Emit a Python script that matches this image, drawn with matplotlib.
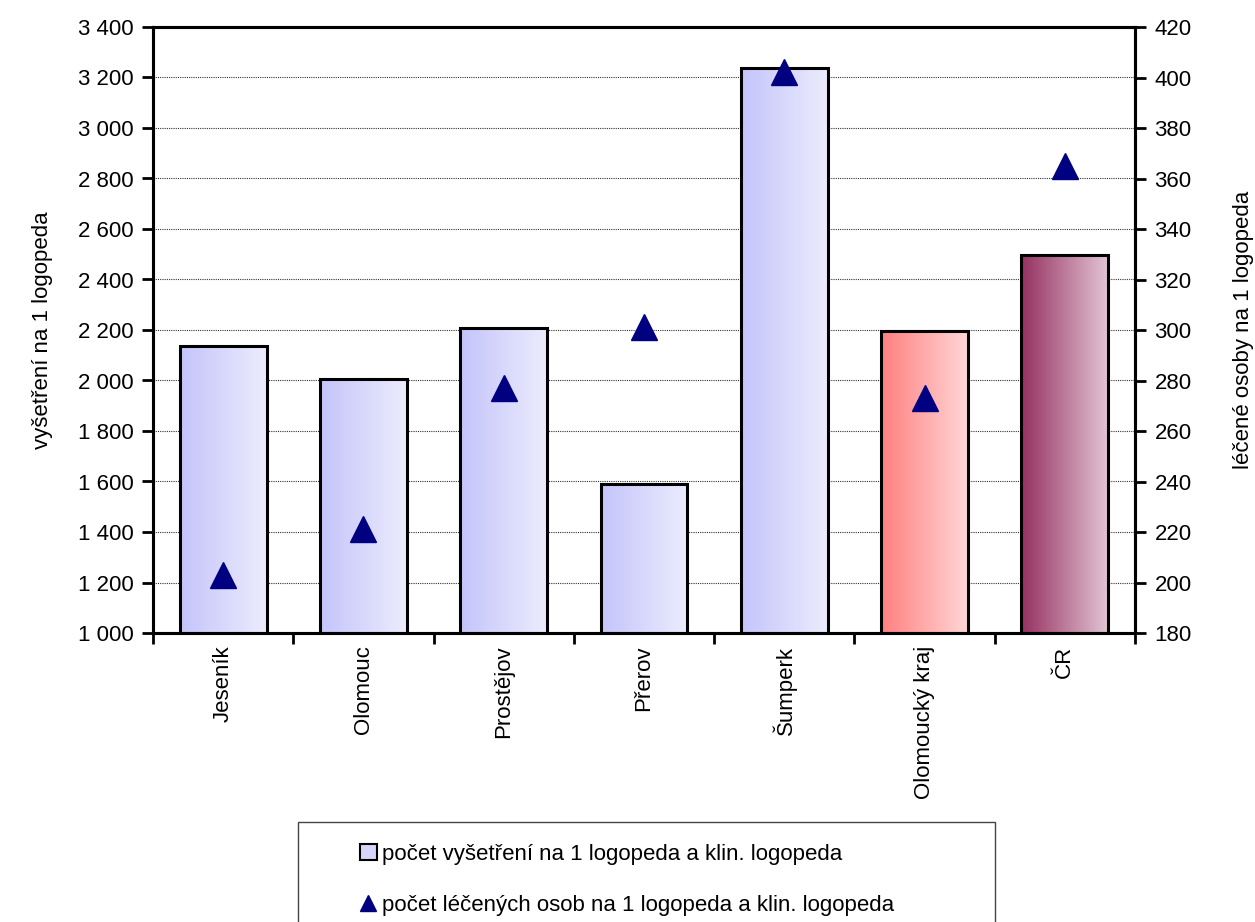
import matplotlib
matplotlib.use("Agg")
import matplotlib.pyplot as plt
import numpy as np
from matplotlib.patches import Patch, Rectangle
from matplotlib.lines import Line2D
from matplotlib.colors import LinearSegmentedColormap
from matplotlib.ticker import FuncFormatter, MultipleLocator

plt.rcParams['font.family'] = ['Liberation Sans Narrow', 'Liberation Sans', 'DejaVu Sans']

categories = ["Jeseník", "Olomouc", "Prostějov", "Přerov", "Šumperk", "Olomoucký kraj", "ČR"]
vysetreni = [2137, 2006, 2207, 1590, 3238, 2197, 2498]
leceni = [203, 221, 277, 301, 402, 273, 365]
series_names = ["počet vyšetření na 1 logopeda a klin. logopeda",
                "počet léčených osob na 1 logopeda a klin. logopeda"]

grad_colors = [("#c4c4fb", "#ececfd")] * 5 + [("#ff7f7f", "#ffd6d6"), ("#963060", "#e2c4d4")]

FS = 16

fig = plt.figure(figsize=(12.55, 9.22), dpi=100)
ax = fig.add_axes([153/1255, 1 - 633/922, (1135-153)/1255, (633-27)/922])
ax2 = ax.twinx()

x = np.arange(len(categories))
width = 0.62
ax.set_xlim(-0.5, len(categories) - 0.5)
ax.set_ylim(1000, 3400)
ax2.set_ylim(180, 420)

bars = ax.bar(x, vysetreni, width=width, bottom=0, facecolor='none',
              edgecolor='black', linewidth=2.2, zorder=3)
grad = np.linspace(0, 1, 256).reshape(1, -1)
for b, (c0, c1) in zip(bars, grad_colors):
    cmap = LinearSegmentedColormap.from_list("g", [c0, c1])
    x0 = b.get_x(); x1 = x0 + b.get_width()
    im = ax.imshow(grad, cmap=cmap, aspect='auto', extent=(x0, x1, 1000, b.get_height()),
                   zorder=2, interpolation='bilinear')
    clip = Rectangle((x0, 1000), b.get_width(), b.get_height() - 1000, transform=ax.transData)
    im.set_clip_path(clip)
ax.set_xlim(-0.5, len(categories) - 0.5)
ax.set_ylim(1000, 3400)

ax2.plot(x, leceni, linestyle='none', marker='^', markersize=19, color='#000080',
         markeredgecolor='#000080', zorder=5)

fmt = FuncFormatter(lambda v, p: f"{int(v):,}".replace(",", " "))
ax.yaxis.set_major_locator(MultipleLocator(200))
ax.yaxis.set_major_formatter(fmt)
ax2.yaxis.set_major_locator(MultipleLocator(20))

ax.grid(axis='y', color='#333333', linestyle=(0, (1, 1)), linewidth=0.8, zorder=0)
ax.set_axisbelow(True)

ax.set_xticks(np.arange(-0.5, len(categories), 1))
ax.set_xticklabels([])
ax.set_xticks(x, minor=True)
ax.set_xticklabels(categories, minor=True, rotation=90, fontsize=FS, va='top', ha='center')
ax.tick_params(axis='x', which='minor', length=0, pad=9)
ax.tick_params(axis='x', which='major', length=8, width=2, direction='out')
ax.tick_params(axis='y', labelsize=FS, length=8, width=2, direction='out', pad=6)
ax2.tick_params(axis='y', labelsize=FS, length=8, width=2, direction='out', pad=6)

for a in (ax, ax2):
    for s in a.spines.values():
        s.set_linewidth(2.2)
        s.set_color('black')

ax.set_ylabel("vyšetření na 1 logopeda", fontsize=FS, labelpad=18)
ax2.set_ylabel("léčené osoby na 1 logopeda", fontsize=FS, labelpad=30, rotation=90)

# legend box (extends past the bottom edge, as in the reference)
fig.patches.append(Rectangle((298/1255, -0.05), (995-298)/1255, (1 - 822/922) + 0.05,
                             transform=fig.transFigure, facecolor='white',
                             edgecolor='#444444', linewidth=1.0, zorder=1))
handles = [Patch(facecolor='#d6d6fa', edgecolor='black', linewidth=1.5),
           Line2D([], [], linestyle='none', marker='^', markersize=12, color='#000080')]
leg = fig.legend(handles, series_names, loc='upper left',
                 bbox_to_anchor=(360/1255, 1 - 844/922), fontsize=FS,
                 frameon=False, borderpad=0, labelspacing=1.35,
                 handlelength=0.75, handleheight=0.75, handletextpad=0.25,
                 borderaxespad=0)
leg.set_zorder(2)

fig.savefig("out.png", dpi=100)
